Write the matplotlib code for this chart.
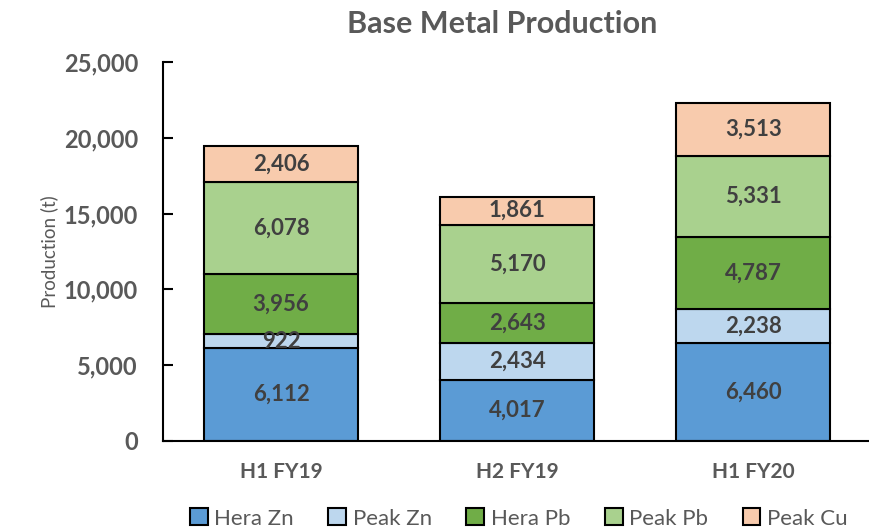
import numpy as np
import matplotlib.pyplot as plt

# data to plot
periods = ['H1 FY19', 'H2 FY19', 'H1 FY20']
series = ['Hera Zn', 'Peak Zn', 'Hera Pb', 'Peak Pb', 'Peak Cu']
hera_zn = [6112, 4017, 6460]
peak_zn = [922, 2434, 2238]
hera_pb = [3956, 2643, 4787]
peak_pb = [6078, 5170, 5331]
peak_cu = [2406, 1861, 3513]

values = [hera_zn, peak_zn, hera_pb, peak_pb, peak_cu]
colors = ['#5B9BD5', '#BDD7EE', '#70AD47', '#A9D18E', '#F8CBAD']

plt.rcParams['font.family'] = ['Lato', 'DejaVu Sans']
text_grey = '#595959'
label_grey = '#404040'

fig = plt.figure(figsize=(8.69, 5.31), dpi=100)
ax = fig.add_axes([0.1876, 0.1695, 0.815, 0.7137])

index = np.arange(len(periods))
bottom = np.zeros(len(periods))
for name, vals, col in zip(series, values, colors):
    vals = np.array(vals, dtype=float)
    bars = ax.bar(index, vals, 0.65, bottom=bottom, color=col,
                  edgecolor='black', linewidth=1.5, label=name)
    for x, b, v in zip(index, bottom, vals):
        ax.text(x, b + v / 2, f'{int(v):,}', ha='center', va='center',
                fontsize=16, fontweight='bold', color=label_grey)
    bottom += vals

ax.set_xlim(-0.5, 2.5)
ax.set_ylim(0, 25000)
ax.set_yticks(np.arange(0, 25001, 5000))
ax.set_yticklabels([f'{v:,}' for v in range(0, 25001, 5000)])
ax.set_xticks(index)
ax.set_xticklabels(periods)

ax.tick_params(axis='y', direction='in', length=7, width=1.5, pad=18,
               labelsize=17, labelcolor=text_grey)
ax.tick_params(axis='x', length=0, pad=15, labelsize=15, labelcolor=text_grey)
for lab in ax.get_xticklabels() + ax.get_yticklabels():
    lab.set_fontweight('bold')

ax.spines['top'].set_visible(False)
ax.spines['right'].set_visible(False)
ax.spines['left'].set_linewidth(1.5)
ax.spines['bottom'].set_linewidth(1.5)

ax.set_ylabel('Production (t)', fontsize=13.5, color=text_grey, labelpad=4)
fig.text(0.578, 0.955, 'Base Metal Production', ha='center', va='center',
         fontsize=22, fontweight='bold', color=text_grey)

leg = fig.legend(loc='lower center', bbox_to_anchor=(0.597, -0.033), ncol=5,
                 frameon=False, fontsize=16, handlelength=0.8, handleheight=0.8,
                 handletextpad=0.3, columnspacing=1.55)
for t in leg.get_texts():
    t.set_color(text_grey)

fig.savefig('out.png', dpi=100)
